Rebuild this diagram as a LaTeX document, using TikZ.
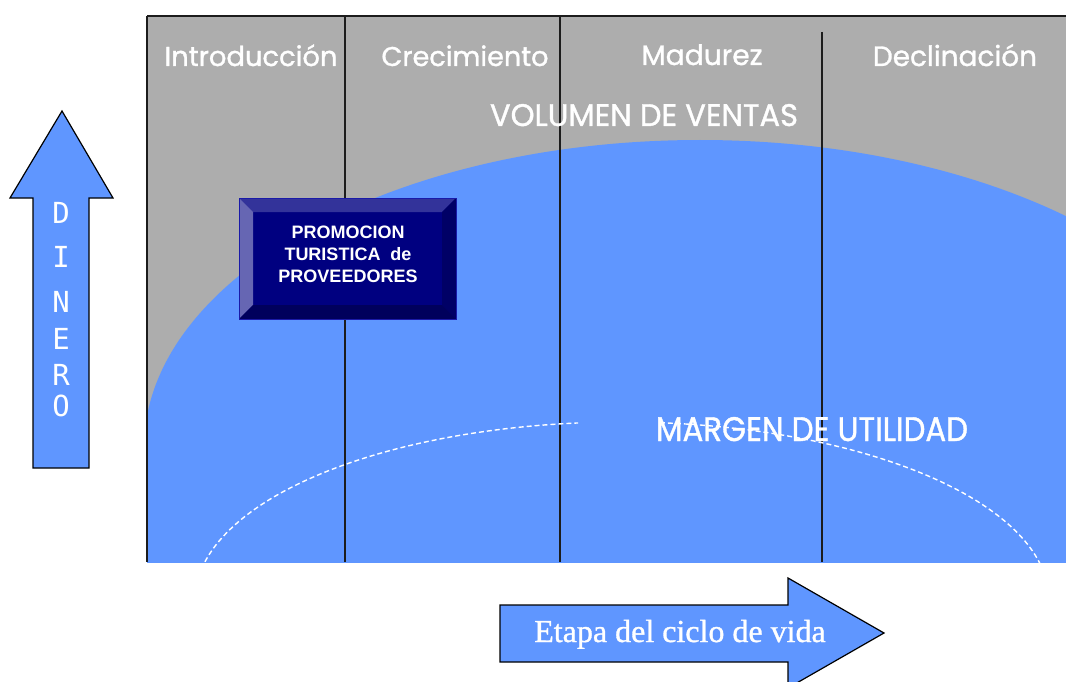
\documentclass[tikz,border=0pt]{standalone}
\usepackage{fontspec}
\setmainfont{Liberation Serif}
\newfontfamily\hdrfont[FakeBold=1.2]{Poppins}
\newfontfamily\boxfont{Liberation Sans}
\newfontfamily\dinfont{DejaVu Sans Mono}
\newfontfamily\etapafont[FakeBold=1]{Liberation Serif}
\definecolor{chartgrey}{HTML}{ADADAD}
\definecolor{volblue}{HTML}{5F96FF}
\definecolor{navybox}{HTML}{000080}
\definecolor{bevtop}{HTML}{33339A}
\definecolor{bevleft}{HTML}{6666B3}
\definecolor{bevright}{HTML}{000066}
\definecolor{bevbot}{HTML}{00005C}
\definecolor{boxedge}{HTML}{1A1AA8}
\definecolor{divcol}{HTML}{1C1C1C}
\tikzset{
  divline/.style={draw=divcol, line width=1.6pt},
  marginline/.style={draw=white, line width=1.4pt, dash pattern=on 5pt off 3pt},
  bigarrow/.style={fill=volblue, draw=black, line width=1.2pt, line join=miter},
  hdr/.style={anchor=base, text=white, inner sep=0pt},
  dinletter/.style={text=white, inner sep=0pt, font=\dinfont\fontsize{29}{29}\selectfont},
}
\begin{document}
\begin{tikzpicture}[x=1pt,y=-1pt]
\useasboundingbox (0,0) rectangle (1066,682);
\clip (0,0) rectangle (1066,682);
\fill[white] (0,0) rectangle (1066,682);
% chart background
\fill[chartgrey] (147,16) rectangle (1066,562);
\begin{scope}
  \clip (147,16) rectangle (1066,562);
  \fill[volblue] (700,448) ellipse [x radius=556, y radius=308];
  \fill[volblue] (140,448) rectangle (1066,563);
\end{scope}
% borders and dividers
\draw[divline] (147,16) -- (1066,16);
\draw[divline] (147,16) -- (147,562);
\draw[divline] (345,16) -- (345,562);
\draw[divline] (560,16) -- (560,562);
\draw[divline] (822,32) -- (822,562);
% margin curve
\draw[marginline] plot[domain=167.6:95.9, samples=80, smooth] ({622+427*cos(\x)},{600-178*sin(\x)});
\draw[marginline] plot[domain=84.9:11.8, samples=80, smooth] ({622+427*cos(\x)},{600-178*sin(\x)});
% headers
\node[hdr] (h1) at (251,66) {\resizebox{173pt}{!}{\hdrfont Introducción}};
\node[hdr] (h2) at (465,66) {\resizebox{167pt}{!}{\hdrfont Crecimiento}};
\node[hdr] (h3) at (702,65) {\resizebox{121pt}{!}{\hdrfont Madurez}};
\node[hdr] (h4) at (955,66) {\resizebox{164pt}{!}{\hdrfont Declinación}};
\node[hdr] (vol) at (644,126) {\resizebox{308pt}{22pt}{\hdrfont VOLUMEN DE VENTAS}};
\node[hdr] (mar) at (812,441) {\resizebox{312pt}{24pt}{\hdrfont MARGEN DE UTILIDAD}};
% promotion box
\fill[navybox] (239,198) rectangle (456,319);
\fill[bevtop] (239,198) -- (456,198) -- (442,212) -- (253,212) -- cycle;
\fill[bevleft] (239,198) -- (253,212) -- (253,305) -- (239,319) -- cycle;
\fill[bevright] (456,198) -- (456,319) -- (442,305) -- (442,212) -- cycle;
\fill[bevbot] (239,319) -- (456,319) -- (442,305) -- (253,305) -- cycle;
\draw[boxedge, line width=1pt] (239,198) rectangle (456,319);
\node[text=white, align=center, inner sep=0pt, font=\boxfont\bfseries\fontsize{18}{22}\selectfont] (promo) at (348,254) {PROMOCION\\TURISTICA\ \ de\\PROVEEDORES};
% DINERO arrow
\draw[bigarrow] (33,468) -- (33,198) -- (10,198) -- (62,111) -- (113,198) -- (89,198) -- (89,468) -- cycle;
\node[dinletter] (dD) at (61,213) {D};
\node[dinletter] (dI) at (61,257) {I};
\node[dinletter] (dN) at (61,302) {N};
\node[dinletter] (dE) at (61,339) {E};
\node[dinletter] (dR) at (61,375) {R};
\node[dinletter] (dO) at (61,406) {O};
% Etapa arrow
\draw[bigarrow] (500,605) -- (788,605) -- (788,578) -- (884,633) -- (788,688) -- (788,662) -- (500,662) -- cycle;
\node[anchor=base, text=white, inner sep=0pt, font=\etapafont\fontsize{32}{32}\selectfont] (etapa) at (680,642) {Etapa del ciclo de vida};
\end{tikzpicture}
\end{document}
